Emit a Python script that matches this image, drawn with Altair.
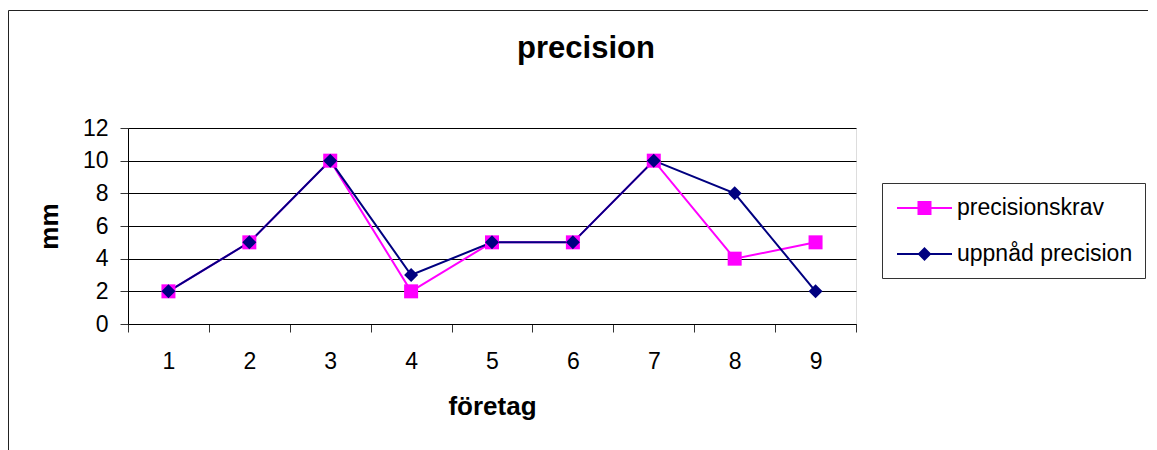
import altair as alt
import pandas as pd

categories = [1, 2, 3, 4, 5, 6, 7, 8, 9]
precisionskrav = [2, 5, 10, 2, 5, 5, 10, 4, 5]
uppnad_precision = [2, 5, 10, 3, 5, 5, 10, 8, 2]
series_names = ["precisionskrav", "uppnåd precision"]
series_colors = ["#FF00FF", "#000080"]
y_ticks = [0, 2, 4, 6, 8, 10, 12]

rows = []
for c, v in zip(categories, precisionskrav):
    rows.append({"cat": c, "mm": v, "series": series_names[0]})
for c, v in zip(categories, uppnad_precision):
    rows.append({"cat": c, "mm": v, "series": series_names[1]})
df = pd.DataFrame(rows)

FONT = "Liberation Sans"

x_enc = alt.X(
    "cat:O",
    scale=alt.Scale(type="band", paddingInner=0, paddingOuter=0),
    axis=alt.Axis(
        title="företag", labelAngle=0, tickBand="extent", tickSize=8,
        tickColor="#333333", domainColor="#000000", labelFontSize=23,
        labelColor="black", labelPadding=18, titleFontSize=26,
        titleFontWeight="bold", titlePadding=20, titleColor="black",
        grid=False, labelFont=FONT, titleFont=FONT,
    ),
)
y_enc = alt.Y(
    "mm:Q",
    scale=alt.Scale(domain=[0, 12], nice=False),
    axis=alt.Axis(
        title="mm", values=y_ticks, tickSize=8, tickColor="#333333",
        domainColor="#000000", labelFontSize=23, labelColor="black",
        labelPadding=12, grid=True, gridColor="#000000", gridWidth=1,
        titleFontSize=26, titleFontWeight="bold", titlePadding=20,
        titleColor="black", labelFont=FONT, titleFont=FONT,
    ),
)

base = alt.Chart(df).encode(x=x_enc, y=y_enc)

frame = alt.Chart(alt.Data(values=[{"a": 1}])).mark_rect(
    fill="transparent", stroke="#222222", strokeWidth=1
).encode(
    x=alt.value(-119.5), x2=alt.value(1300),
    y=alt.value(-117.5), y2=alt.value(700),
)

line_k = base.transform_filter(alt.datum.series == series_names[0]).mark_line(
    color=series_colors[0], strokeWidth=2
)
line_u = base.transform_filter(alt.datum.series == series_names[1]).mark_line(
    color=series_colors[1], strokeWidth=2
)
pts_k = base.transform_filter(alt.datum.series == series_names[0]).mark_point(
    shape="square", filled=True, size=196, color=series_colors[0], opacity=1
)
pts_u = base.transform_filter(alt.datum.series == series_names[1]).mark_point(
    shape="diamond", filled=True, size=196, color=series_colors[1], opacity=1
)

path_k = "M-0.833,0L3.75,0M0.958,-0.5L1.958,-0.5L1.958,0.5L0.958,0.5Z"
path_u = "M-0.833,0L3.75,0M1.458,-0.458L1.917,0L1.458,0.458L1.0,0Z"

leg = alt.Legend(
    title=None, orient="none", legendX=754, legendY=55, padding=12,
    strokeColor="#333333", fillColor="white", labelFontSize=23,
    labelColor="black", labelFont=FONT, labelOffset=37, rowPadding=21,
    labelLimit=400,
    symbolSize=576, symbolStrokeWidth=2, symbolOpacity=1,
)

legend_layer = base.mark_point(filled=True, opacity=0, strokeWidth=2).encode(
    fill=alt.Fill("series:N", scale=alt.Scale(domain=series_names, range=series_colors), legend=leg),
    stroke=alt.Stroke("series:N", scale=alt.Scale(domain=series_names, range=series_colors), legend=leg),
    shape=alt.Shape("series:N", scale=alt.Scale(domain=series_names, range=[path_k, path_u]), legend=leg),
)

chart = alt.layer(frame, line_k, line_u, pts_k, pts_u, legend_layer).properties(
    width=728,
    height=196,
    autosize=alt.AutoSizeParams(type="none"),
    padding={"left": 120, "top": 120, "right": 292, "bottom": 126},
    title=alt.Title(
        "precision", fontSize=31, fontWeight="bold", color="black",
        font=FONT, dx=94, offset=-55, anchor="middle",
    ),
).configure_view(
    fill="#C0C0C0", stroke="#808080", strokeWidth=2
).configure(
    background="white", font=FONT
)

chart.save("out.html", embed_options={"renderer": "svg", "actions": False})
